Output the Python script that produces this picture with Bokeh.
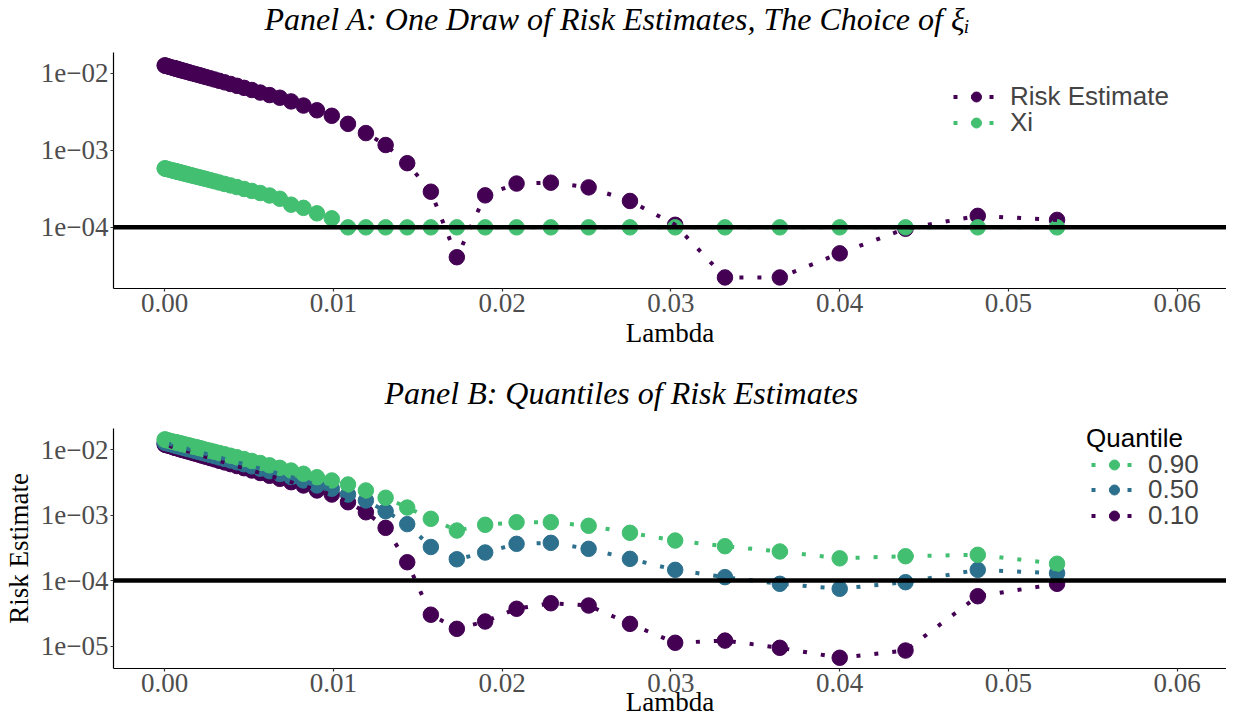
from bokeh.plotting import figure
from bokeh.layouts import column
from bokeh.models import (Range1d, FixedTicker, CustomJSTickFormatter, Span,
                          Legend, LegendItem, Label, Title)
from bokeh.embed import file_html
from bokeh.resources import INLINE

# ---------------- data ----------------
lam = [0.05289, 0.04819, 0.04391, 0.04001, 0.03646, 0.03321, 0.03026, 0.02758,
       0.02513, 0.02289, 0.02086, 0.01900, 0.01732, 0.01578, 0.01438, 0.01310,
       0.01193, 0.01087, 0.00991, 0.00903, 0.00823, 0.00750, 0.00683, 0.00622,
       0.00567, 0.00517, 0.00471, 0.00429, 0.00391, 0.00356, 0.00324, 0.00296,
       0.00270, 0.00245, 0.00223, 0.00204, 0.00186, 0.00169, 0.00154, 0.00141,
       0.00128, 0.00117, 0.00106, 0.00097, 0.00088, 0.00080, 0.00073, 0.00067,
       0.00061, 0.00055, 0.00050, 0.00032, 0.00020, 0.000078, 0.000031, 0.0000053]

risk_estimate = [1.25e-4, 1.41e-4, 9.6e-5, 4.6e-5, 2.24e-5, 2.24e-5, 1.08e-4, 2.2e-4,
                 3.3e-4, 3.8e-4, 3.7e-4, 2.6e-4, 4.1e-5, 2.9e-4, 6.8e-4, 1.17e-3,
                 1.67e-3, 2.2e-3, 2.8e-3, 3.3e-3, 3.8e-3, 4.3e-3, 4.8e-3, 5.2e-3,
                 5.6e-3, 6.05e-3, 6.45e-3, 6.85e-3, 7.24e-3, 7.6e-3, 7.96e-3, 8.28e-3,
                 8.59e-3, 8.9e-3, 9.18e-3, 9.44e-3, 9.68e-3, 9.9e-3, 1.01e-2, 1.03e-2,
                 1.05e-2, 1.067e-2, 1.08e-2, 1.096e-2, 1.11e-2, 1.124e-2, 1.135e-2, 1.146e-2,
                 1.155e-2, 1.164e-2, 1.172e-2, 1.20e-2, 1.225e-2, 1.245e-2, 1.253e-2, 1.26e-2]

xi = [1e-4, 1e-4, 1e-4, 1e-4, 1e-4, 1e-4, 1e-4, 1e-4,
      1e-4, 1e-4, 1e-4, 1e-4, 1e-4, 1e-4, 1e-4, 1e-4,
      1e-4, 1e-4, 1.31e-4, 1.52e-4, 1.79e-4, 1.97e-4, 2.35e-4, 2.59e-4,
      2.79e-4, 2.97e-4, 3.15e-4, 3.33e-4, 3.50e-4, 3.66e-4, 3.82e-4, 3.96e-4,
      4.10e-4, 4.24e-4, 4.36e-4, 4.47e-4, 4.57e-4, 4.67e-4, 4.76e-4, 4.84e-4,
      4.93e-4, 5.00e-4, 5.07e-4, 5.13e-4, 5.19e-4, 5.25e-4, 5.29e-4, 5.34e-4,
      5.38e-4, 5.42e-4, 5.45e-4, 5.58e-4, 5.67e-4, 5.77e-4, 5.80e-4, 5.82e-4]

q90 = [1.81e-4, 2.48e-4, 2.36e-4, 2.19e-4, 2.79e-4, 3.36e-4, 4.10e-4, 5.38e-4,
       6.89e-4, 7.82e-4, 7.82e-4, 7.13e-4, 5.83e-4, 8.81e-4, 1.31e-3, 1.85e-3,
       2.39e-3, 2.95e-3, 3.40e-3, 3.81e-3, 4.30e-3, 4.82e-3, 5.30e-3, 5.79e-3,
       6.28e-3, 6.76e-3, 7.22e-3, 7.69e-3, 8.12e-3, 8.55e-3, 8.95e-3, 9.33e-3,
       9.69e-3, 1.00e-2, 1.04e-2, 1.07e-2, 1.10e-2, 1.12e-2, 1.15e-2, 1.17e-2,
       1.19e-2, 1.21e-2, 1.23e-2, 1.25e-2, 1.26e-2, 1.28e-2, 1.29e-2, 1.30e-2,
       1.31e-2, 1.32e-2, 1.33e-2, 1.37e-2, 1.39e-2, 1.42e-2, 1.43e-2, 1.44e-2]

q50 = [1.30e-4, 1.46e-4, 9.46e-5, 7.50e-5, 8.93e-5, 1.13e-4, 1.46e-4, 2.15e-4,
       3.06e-4, 3.78e-4, 3.65e-4, 2.69e-4, 2.12e-4, 3.27e-4, 7.31e-4, 1.15e-3,
       1.68e-3, 2.07e-3, 2.54e-3, 2.85e-3, 3.40e-3, 3.83e-3, 4.27e-3, 4.71e-3,
       5.15e-3, 5.59e-3, 6.02e-3, 6.45e-3, 6.86e-3, 7.26e-3, 7.64e-3, 8.00e-3,
       8.35e-3, 8.69e-3, 9.00e-3, 9.29e-3, 9.57e-3, 9.82e-3, 1.01e-2, 1.03e-2,
       1.05e-2, 1.07e-2, 1.09e-2, 1.10e-2, 1.12e-2, 1.14e-2, 1.15e-2, 1.16e-2,
       1.17e-2, 1.18e-2, 1.19e-2, 1.23e-2, 1.25e-2, 1.28e-2, 1.29e-2, 1.29e-2]

q10 = [8.93e-5, 5.77e-5, 8.53e-6, 6.61e-6, 9.38e-6, 1.21e-5, 1.12e-5, 2.18e-5,
       4.16e-5, 4.51e-5, 3.71e-5, 2.37e-5, 1.83e-5, 3.01e-5, 1.91e-4, 6.41e-4,
       1.11e-3, 1.58e-3, 2.07e-3, 2.39e-3, 2.85e-3, 3.20e-3, 3.60e-3, 4.01e-3,
       4.42e-3, 4.83e-3, 5.24e-3, 5.65e-3, 6.04e-3, 6.42e-3, 6.79e-3, 7.15e-3,
       7.48e-3, 7.82e-3, 8.12e-3, 8.42e-3, 8.69e-3, 8.94e-3, 9.19e-3, 9.40e-3,
       9.61e-3, 9.80e-3, 9.98e-3, 1.01e-2, 1.03e-2, 1.05e-2, 1.06e-2, 1.07e-2,
       1.08e-2, 1.09e-2, 1.10e-2, 1.14e-2, 1.16e-2, 1.19e-2, 1.20e-2, 1.21e-2]

threshold = 1e-4

x_ticks = [0.00, 0.01, 0.02, 0.03, 0.04, 0.05, 0.06]
x_tick_labels = ["0.00", "0.01", "0.02", "0.03", "0.04", "0.05", "0.06"]
y_ticks_a = [1e-4, 1e-3, 1e-2]
y_tick_labels_a = ["1e\u221204", "1e\u221203", "1e\u221202"]
y_ticks_b = [1e-5, 1e-4, 1e-3, 1e-2]
y_tick_labels_b = ["1e\u221205", "1e\u221204", "1e\u221203", "1e\u221202"]

series_a = ["Risk Estimate", "Xi"]
series_b = ["0.90", "0.50", "0.10"]
legend_b_title = "Quantile"

# ---------------- style ----------------
PURPLE = "#440154"
BLUE = "#2D708E"
GREEN = "#43BF71"
SERIF = "Liberation Serif"
SANS = "Liberation Sans"
PT = 15.5
LW = 4
DASH = "4 14"

X_JS = """
let best = 0, bd = Infinity;
for (let i = 0; i < vals.length; i++) { const d = Math.abs(tick - vals[i]); if (d < bd) { bd = d; best = i; } }
return labels[best];
"""
Y_JS = """
let best = 0, bd = Infinity;
for (let i = 0; i < vals.length; i++) { const d = Math.abs(Math.log(tick / vals[i])); if (d < bd) { bd = d; best = i; } }
return labels[best];
"""


def style(p, yt, ytl, xlab_standoff, spacer):
    p.xgrid.visible = False
    p.ygrid.visible = False
    p.outline_line_color = None
    p.xaxis.ticker = FixedTicker(ticks=x_ticks, minor_ticks=[])
    p.xaxis.formatter = CustomJSTickFormatter(args=dict(vals=x_ticks, labels=x_tick_labels), code=X_JS)
    p.yaxis.ticker = FixedTicker(ticks=yt, minor_ticks=[])
    p.yaxis.formatter = CustomJSTickFormatter(args=dict(vals=yt, labels=ytl), code=Y_JS)
    for ax in (p.xaxis[0], p.yaxis[0]):
        ax.axis_line_color = "black"
        ax.axis_line_width = 1.2
        ax.major_tick_line_color = "#333333"
        ax.major_tick_line_width = 1.2
        ax.major_tick_out = 3
        ax.major_tick_in = 0
        ax.minor_tick_line_color = None
        ax.major_label_text_font = SERIF
        ax.major_label_text_font_size = "27px"
        ax.major_label_text_color = "#4D4D4D"
        ax.major_label_standoff = 2
        ax.axis_label_text_font = SERIF
        ax.axis_label_text_font_size = "27px"
        ax.axis_label_text_font_style = "normal"
        ax.axis_label_text_color = "black"
    p.xaxis.axis_label = "Lambda"
    p.xaxis.axis_label_standoff = xlab_standoff
    p.title.text_font = SERIF
    p.title.text_font_style = "italic"
    p.title.text_font_size = "32px"
    p.title.text_color = "black"
    p.title.align = "left"
    p.title.vertical_align = "top"
    p.title.standoff = 0
    # empty spacer between the frame and the title
    p.add_layout(Title(text=" ", text_font_size="1px", standoff=spacer), "above")


def leg(items, loc, **kw):
    return Legend(items=items, location=loc, glyph_width=46, glyph_height=25,
                  label_standoff=11, spacing=0, padding=0, margin=0,
                  border_line_color=None, background_fill_alpha=0,
                  label_text_font=SANS, label_text_font_size="26px", **kw)


# ---------------- panel A ----------------
pa = figure(width=1226, height=368, y_axis_type="log",
            x_range=Range1d(-0.003027, 0.062932),
            y_range=Range1d(10 ** -4.793, 10 ** -1.732),
            output_backend="svg", toolbar_location=None,
            min_border_left=108, min_border_right=0,
            min_border_top=48, min_border_bottom=80,
            title="Panel A: One Draw of Risk Estimates, The Choice of \u03be\u1d62")
style(pa, y_ticks_a, y_tick_labels_a, 3, 11)
pa.title.offset = 151

sa1 = pa.scatter(lam, risk_estimate, size=PT, color=PURPLE)
sa2 = pa.scatter(lam, xi, size=PT, color=GREEN)
la1 = pa.line(lam, risk_estimate, line_color=PURPLE, line_width=LW, line_dash=DASH, line_cap="butt")
la2 = pa.line(lam, xi, line_color=GREEN, line_width=LW, line_dash=DASH, line_cap="butt")
pa.add_layout(Span(location=threshold, dimension="width", line_color="black", line_width=4.5))

pa.add_layout(leg([LegendItem(label=series_a[0], renderers=[la1, sa1])], (840, 176)))
pa.add_layout(leg([LegendItem(label=series_a[1], renderers=[la2, sa2])], (840, 150)))

# ---------------- panel B ----------------
pb = figure(width=1226, height=357, y_axis_type="log",
            x_range=Range1d(-0.003027, 0.062932),
            y_range=Range1d(10 ** -5.344, 10 ** -1.674),
            output_backend="svg", toolbar_location=None,
            min_border_left=108, min_border_right=0,
            min_border_top=60, min_border_bottom=57,
            title="Panel B: Quantiles of Risk Estimates")
style(pb, y_ticks_b, y_tick_labels_b, -8, 13)
pb.title.offset = 271
pb.yaxis.axis_label = "Risk Estimate"
pb.yaxis.axis_label_standoff = 4

sb3 = pb.scatter(lam, q10, size=PT, color=PURPLE)
sb2 = pb.scatter(lam, q50, size=PT, color=BLUE)
sb1 = pb.scatter(lam, q90, size=PT, color=GREEN)
lb3 = pb.line(lam, q10, line_color=PURPLE, line_width=LW, line_dash=DASH, line_cap="butt")
lb2 = pb.line(lam, q50, line_color=BLUE, line_width=LW, line_dash=DASH, line_cap="butt")
lb1 = pb.line(lam, q90, line_color=GREEN, line_width=LW, line_dash=DASH, line_cap="butt")
pb.add_layout(Span(location=threshold, dimension="width", line_color="black", line_width=4.5))

pb.add_layout(leg([LegendItem(label=series_b[0], renderers=[lb1, sb1])], (978, 188)))
pb.add_layout(leg([LegendItem(label=series_b[1], renderers=[lb2, sb2])], (978, 163)))
pb.add_layout(leg([LegendItem(label=series_b[2], renderers=[lb3, sb3])], (978, 137)))
# legend title placed just inside the frame's top edge (x in lambda units, y in risk units)
pb.add_layout(Label(x=0.05461, y=0.01490, text=legend_b_title, text_font=SANS,
                    text_font_size="26px", text_color="black",
                    text_baseline="alphabetic", text_align="left"))

layout = column(pa, pb, spacing=0)
open("out.html", "w").write(file_html(layout, INLINE))
